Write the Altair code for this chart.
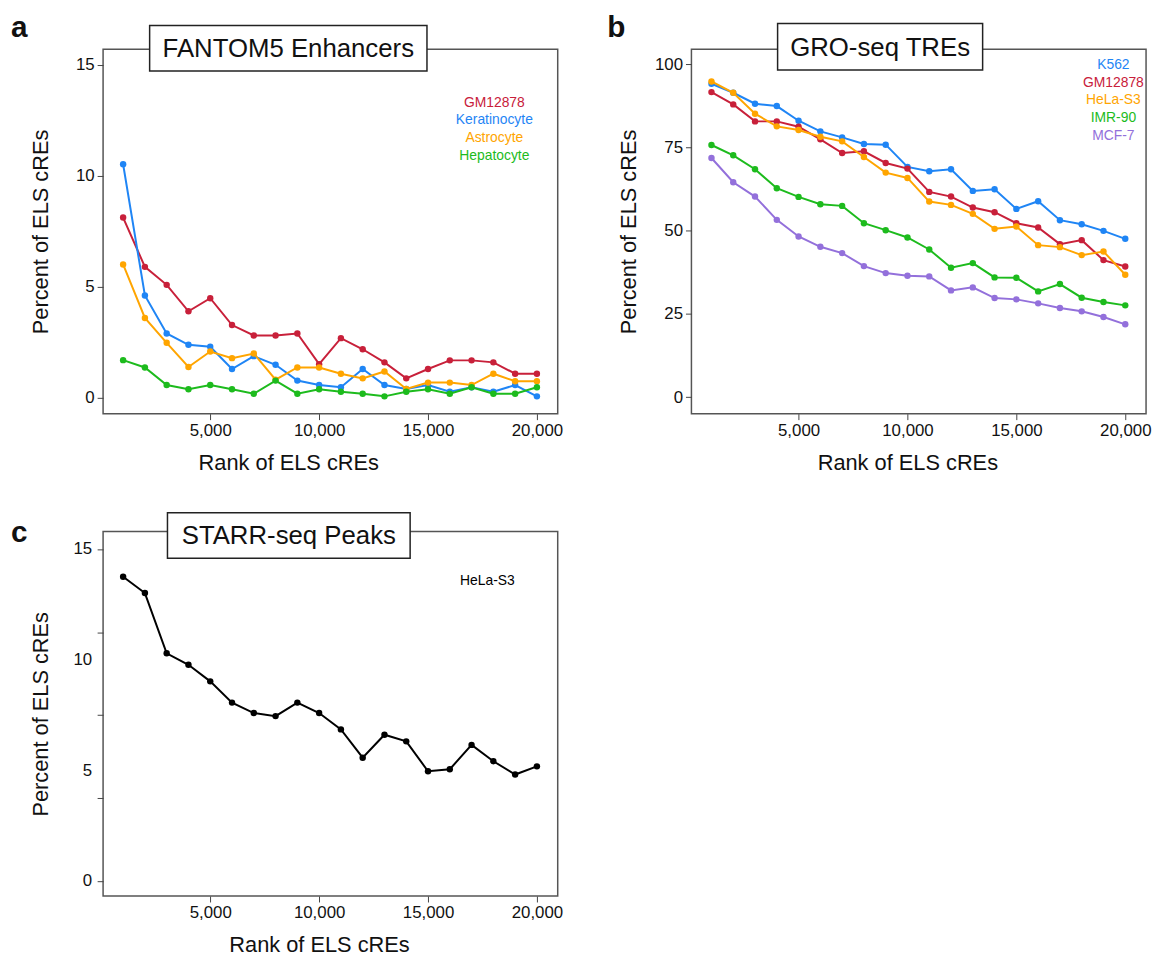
import altair as alt
import pandas as pd

FONT = "Liberation Sans"

rank = [1000, 2000, 3000, 4000, 5000, 6000, 7000, 8000, 9000, 10000,
        11000, 12000, 13000, 14000, 15000, 16000, 17000, 18000, 19000, 20000]

# Panel a: FANTOM5 Enhancers
fantom_names = ["GM12878", "Keratinocyte", "Astrocyte", "Hepatocyte"]
fantom_colors = ["#C8203A", "#1F85F5", "#FFA500", "#1DBB1D"]
fantom_gm12878 = [8.12, 5.90, 5.09, 3.90, 4.49, 3.28, 2.81, 2.81, 2.90, 1.52,
                  2.69, 2.19, 1.60, 0.88, 1.30, 1.69, 1.69, 1.60, 1.09, 1.09]
fantom_keratinocyte = [10.52, 4.61, 2.90, 2.39, 2.30, 1.30, 1.88, 1.49, 0.78, 0.58,
                       0.48, 1.30, 0.58, 0.40, 0.58, 0.28, 0.48, 0.28, 0.58, 0.07]
fantom_astrocyte = [6.01, 3.60, 2.48, 1.39, 2.09, 1.79, 2.00, 0.82, 1.37, 1.37,
                    1.09, 0.88, 1.19, 0.40, 0.69, 0.69, 0.58, 1.09, 0.75, 0.75]
fantom_hepatocyte = [1.70, 1.37, 0.58, 0.39, 0.58, 0.39, 0.19, 0.78, 0.19, 0.39,
                     0.28, 0.19, 0.07, 0.28, 0.39, 0.19, 0.48, 0.19, 0.19, 0.48]

# Panel b: GRO-seq TREs
gro_names = ["K562", "GM12878", "HeLa-S3", "IMR-90", "MCF-7"]
gro_colors = ["#1F85F5", "#C8203A", "#FFA500", "#1DBB1D", "#9370DB"]
gro_k562 = [94.2, 91.5, 88.2, 87.5, 83.1, 79.9, 78.1, 76.1, 75.9, 69.2,
            67.9, 68.5, 62.0, 62.5, 56.6, 58.9, 53.2, 52.0, 50.0, 47.6]
gro_gm12878 = [91.7, 88.0, 82.9, 82.9, 81.3, 77.5, 73.4, 73.9, 70.4, 68.7,
               61.7, 60.3, 57.0, 55.6, 52.3, 51.0, 46.0, 47.2, 41.2, 39.3]
gro_hela = [94.9, 91.5, 85.2, 81.4, 80.3, 78.3, 76.9, 72.2, 67.5, 65.9,
            58.8, 57.8, 55.1, 50.6, 51.3, 45.7, 45.1, 42.7, 43.8, 36.8]
gro_imr90 = [75.8, 72.7, 68.5, 62.8, 60.2, 58.0, 57.5, 52.3, 50.2, 48.0,
             44.4, 38.9, 40.3, 36.0, 35.9, 31.8, 34.0, 29.9, 28.6, 27.6]
gro_mcf7 = [71.9, 64.6, 60.3, 53.3, 48.3, 45.2, 43.3, 39.4, 37.3, 36.5,
            36.3, 32.1, 33.0, 29.8, 29.4, 28.2, 26.8, 25.8, 24.1, 21.9]

# Panel c: STARR-seq Peaks
starr_names = ["HeLa-S3"]
starr_colors = ["#000000"]
starr_hela = [13.76, 13.02, 10.30, 9.78, 9.03, 8.07, 7.60, 7.46, 8.07, 7.60,
              6.86, 5.58, 6.62, 6.32, 4.97, 5.06, 6.16, 5.42, 4.82, 5.19]

x_ticks = [5000, 10000, 15000, 20000]
fantom_y_ticks = [0, 5, 10, 15]
gro_y_ticks = [0, 25, 50, 75, 100]
starr_y_labels = [0, 5, 10, 15]
starr_y_ticks = [0, 3.75, 7.5, 11.25, 15]

W, H = 459, 368


def long_df(names, series_lists):
    rows = []
    for k, (n, vals) in enumerate(zip(names, series_lists)):
        for r, v in zip(rank, vals):
            rows.append({"rank": r, "value": v, "series": n, "k": k})
    return pd.DataFrame(rows)


def panel(df, names, colors, ydomain, y_axis, title_text, box, letter,
          legend_x, legend_y0, legend_dy, x_title_x, extra=None):
    xenc = alt.X("rank:Q", scale=alt.Scale(domain=[80, 20955], nice=False, zero=False),
                 axis=alt.Axis(values=x_ticks, labelExpr="format(datum.value, ',')",
                               title="Rank of ELS cREs",
                               titleX=x_title_x, titleY=49, titleBaseline="middle"))
    yscale = alt.Scale(domain=ydomain, nice=False, zero=False)
    yenc = alt.Y("value:Q", scale=yscale, axis=y_axis)
    base = alt.Chart(df)
    layers = []
    for n, c in zip(names, colors):
        sub = base.transform_filter(alt.datum.series == n)
        layers.append(sub.mark_line(strokeWidth=2, color=c).encode(x=xenc, y=yenc))
        layers.append(sub.mark_circle(size=42, opacity=1, color=c).encode(x=xenc, y=yenc))
    if extra is not None:
        layers.append(extra(yscale, y_axis))
    tdf = pd.DataFrame({"label": [title_text]})
    bx0, bx1, by0, by1 = box
    layers.append(alt.Chart(tdf).mark_rect(fill="white", stroke="#222222", strokeWidth=1.5).encode(
        x=alt.value(bx0), x2=alt.value(bx1), y=alt.value(by0), y2=alt.value(by1)))
    layers.append(alt.Chart(tdf).mark_text(font=FONT, fontSize=26, color="#111111",
                                           baseline="middle", align="center").encode(
        x=alt.value((bx0 + bx1) / 2), y=alt.value((by0 + by1) / 2 + 1), text="label:N"))
    ldf = pd.DataFrame({"label": [letter[0]]})
    layers.append(alt.Chart(ldf).mark_text(font=FONT, fontSize=30, fontWeight="bold",
                                           color="#111111", align="left",
                                           baseline="alphabetic").encode(
        x=alt.value(letter[1]), y=alt.value(letter[2]), text="label:N"))
    for i, (n, c) in enumerate(zip(names, colors)):
        ndf = pd.DataFrame({"label": [n]})
        layers.append(alt.Chart(ndf).mark_text(font=FONT, fontSize=14, color=c,
                                               align="center", baseline="middle").encode(
            x=alt.value(legend_x), y=alt.value(legend_y0 + legend_dy * i), text="label:N"))
    return alt.layer(*layers).properties(width=W, height=H)


def y_axis(values, labels=True):
    return alt.Axis(values=values, title="Percent of ELS cREs", titleX=-63,
                    titleBaseline="middle", labels=labels)


df_a = long_df(fantom_names, [fantom_gm12878, fantom_keratinocyte, fantom_astrocyte, fantom_hepatocyte])
df_b = long_df(gro_names, [gro_k562, gro_gm12878, gro_hela, gro_imr90, gro_mcf7])
df_c = long_df(starr_names, [starr_hela])

panel_a = panel(df_a, fantom_names, fantom_colors, [-0.71, 15.7], y_axis(fantom_y_ticks),
                "FANTOM5 Enhancers", (47, 327, -24, 22), ("a", -93, -12),
                395, 54, 18, 187)
panel_b = panel(df_b, gro_names, gro_colors, [-4.96, 104.6], y_axis(gro_y_ticks),
                "GRO-seq TREs", (87, 294, -26, 21), ("b", -85, -12),
                426, 16, 17.8, 218)


def starr_labels(yscale, axis):
    ldf = pd.DataFrame({"v": starr_y_labels})
    return alt.Chart(ldf).mark_text(font=FONT, fontSize=17, color="#111111", align="right",
                                    baseline="middle").encode(
        x=alt.value(-11), y=alt.Y("v:Q", scale=yscale, axis=axis), text="v:Q")


panel_c = panel(df_c, starr_names, starr_colors, [-0.67, 15.8], y_axis(starr_y_ticks, labels=False),
                "STARR-seq Peaks", (65, 310, -19, 27), ("c", -93, 11),
                388, 50, 18, 218, extra=starr_labels)

chart = alt.vconcat(
    alt.hconcat(panel_a, panel_b, spacing=43),
    panel_c,
    spacing=37,
).properties(padding={"top": 0, "left": 2, "right": 0, "bottom": 0},
             background="white").configure_view(
    stroke="#555555", strokeWidth=1.5
).configure_axis(
    grid=False, domain=False, labelFont=FONT, titleFont=FONT, labelFontSize=17,
    titleFontSize=22, titleFontWeight="normal", labelColor="#111111", titleColor="#111111",
    tickColor="#444444", tickSize=6, labelPadding=3
)

chart.save("out.html", embed_options={"renderer": "svg", "actions": False})
